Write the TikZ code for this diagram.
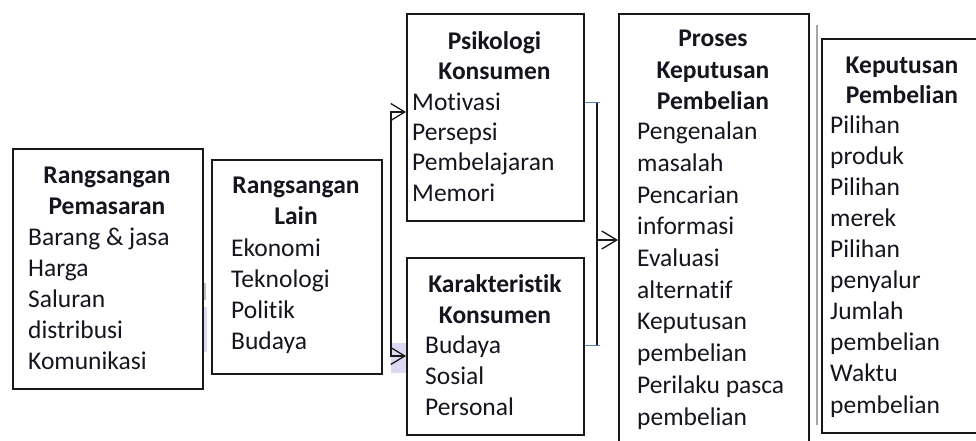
\documentclass[tikz,border=0pt]{standalone}
\usepackage{fontspec}
\setmainfont{Carlito}[Ligatures=NoCommon]
\usetikzlibrary{arrows.meta}
\definecolor{txt}{HTML}{15151F}
\definecolor{bluel}{HTML}{4F7FC8}
\definecolor{lav}{HTML}{DCD9F2}
\begin{document}
\begin{tikzpicture}[x=1pt,y=-1pt,
  box/.style={draw=black!90, line width=1.6pt, rectangle, inner sep=0pt, anchor=north west},
  ttl/.style={align=center, text=txt, font=\fontsize{25.5}{31}\selectfont\bfseries, inner sep=0pt, anchor=base},
  itm/.style={align=left, text=txt, font=\fontsize{25.5}{31}\selectfont, inner sep=0pt, anchor=base west},
  conn/.style={line width=1.3pt, draw=black!90},
  blu/.style={line width=1pt, draw=bluel},
  arrowto/.style={-{Straight Barb[length=15pt,width=18pt,line width=1.3pt]}},
  arrowboth/.style={{Straight Barb[length=14pt,width=17pt,line width=1.3pt]}-{Straight Barb[length=14pt,width=17pt,line width=1.3pt]}}
]
\useasboundingbox (0,0) rectangle (976,441);
\clip (0,0) rectangle (976,441);
\fill[white] (0,0) rectangle (976,441);

% faint artifacts
\fill[lav] (391,343) rectangle (406,373);
\fill[black!25] (203,283) rectangle (206,300);
\fill[lav] (203,307) rectangle (207,352);
\draw[black!35, line width=1.4pt] (817,25) -- (817,425);

% boxes
\node[box, minimum width=190pt, minimum height=240pt] (b1) at (12,148) {};
\node[box, minimum width=170pt, minimum height=214pt] (b2) at (211,159) {};
\node[box, minimum width=177pt, minimum height=207pt] (b3) at (406,13) {};
\node[box, minimum width=177pt, minimum height=177pt] (b4) at (406,257) {};
\node[box, minimum width=190pt, minimum height=460pt] (b5) at (618,13) {};
\node[box, minimum width=200pt, minimum height=394pt] (b6) at (821,38) {};

% texts (anchor = baseline of last line)
\node[ttl] (t1) at (107,214) {Rangsangan\\Pemasaran};
\node[itm] (i1) at (28,369) {Barang \& jasa\\Harga\\Saluran\\distribusi\\Komunikasi};
\node[ttl] (t2) at (296,224) {Rangsangan\\Lain};
\node[itm] (i2) at (231,349) {Ekonomi\\Teknologi\\Politik\\Budaya};
\node[ttl, font=\fontsize{25.5}{30}\selectfont\bfseries] (t3) at (494.5,80) {Psikologi\\Konsumen};
\node[itm, font=\fontsize{25.5}{30.3}\selectfont] (i3) at (412,201) {Motivasi\\Persepsi\\Pembelajaran\\Memori};
\node[ttl] (t4) at (495,323) {Karakteristik\\Konsumen};
\node[itm] (i4) at (425,415) {Budaya\\Sosial\\Personal};
\node[ttl, font=\fontsize{25.5}{31.5}\selectfont\bfseries] (t5) at (713,110) {Proses\\Keputusan\\Pembelian};
\node[itm, font=\fontsize{25.5}{31.7}\selectfont] (i5) at (637,425) {Pengenalan\\masalah\\Pencarian\\informasi\\Evaluasi\\alternatif\\Keputusan\\pembelian\\Perilaku pasca\\pembelian};
\node[ttl, font=\fontsize{25.5}{30}\selectfont\bfseries] (t6) at (902,103) {Keputusan\\Pembelian};
\node[itm, font=\fontsize{25.5}{31.1}\selectfont] (i6) at (830,413) {Pilihan\\produk\\Pilihan\\merek\\Pilihan\\penyalur\\Jumlah\\pembelian\\Waktu\\pembelian};

% connector helpers
\coordinate (lx) at (391,0);
\coordinate (a1) at (0,112);
\coordinate (a2) at (0,356);
\coordinate (rx) at (597,0);
\coordinate (r1) at (0,103);
\coordinate (r2) at (0,345);
\coordinate (r3) at (0,240);

\draw[conn, arrowboth] (b3.west |- a1) -- (lx |- a1) -- (lx |- a2) -- (b4.west |- a2);
\draw[blu] (b3.east |- r1) -- ([xshift=3pt]rx |- r1);
\draw[conn] (rx |- r1) -- (rx |- r2);
\draw[blu] ([xshift=3pt]rx |- r2) -- (b4.east |- r2);
\draw[conn, arrowto] (rx |- r3) -- (b5.west |- r3);
\end{tikzpicture}
\end{document}
